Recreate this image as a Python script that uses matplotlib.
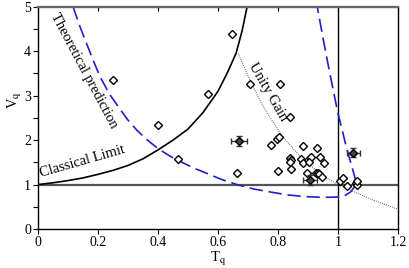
import numpy as np
import matplotlib.pyplot as plt
from matplotlib.ticker import MultipleLocator, FuncFormatter

plt.rcParams['font.family'] = ['Liberation Serif', 'DejaVu Serif']
plt.rcParams['mathtext.fontset'] = 'stix'

# measured points (open diamonds)
tq = [0.249, 0.40, 0.468, 0.567, 0.646, 0.707, 0.807, 0.84, 0.662,
      0.798, 0.803, 0.776, 0.883, 0.931, 0.80, 0.84, 0.842, 0.84, 0.844,
      0.876, 0.883, 0.907, 0.911, 0.903, 0.94, 0.953, 0.898, 0.926, 0.933,
      0.937, 0.948, 1.007, 1.018, 1.031, 1.059, 1.064, 1.062]
vq = [3.35, 2.34, 1.57, 3.03, 4.38, 3.27, 3.26, 2.52, 1.27,
      2.02, 2.07, 1.89, 1.86, 1.82, 1.30, 1.60, 1.55, 1.51, 1.36,
      1.57, 1.48, 1.60, 1.61, 1.51, 1.61, 1.48, 1.25, 1.27, 1.27,
      1.24, 1.18, 1.09, 1.15, 0.96, 1.03, 1.00, 1.07]

# points with error bars
tq_err = [0.67, 0.907, 1.051]
vq_err = [1.98, 1.10, 1.72]
xerr = [0.028, 0.024, 0.022]
yerr = [0.11, 0.11, 0.11]

# curves
classical_t = [0.0, 0.05, 0.1, 0.15, 0.2, 0.25, 0.3, 0.35, 0.4, 0.45, 0.5,
               0.55, 0.6, 0.63, 0.66, 0.68, 0.697]
classical_v = [1.0, 1.04, 1.09, 1.15, 1.23, 1.32, 1.43, 1.58, 1.78, 2.0, 2.25,
               2.62, 3.1, 3.5, 3.95, 4.45, 5.0]

theory_t = [0.117, 0.14, 0.162, 0.185, 0.207, 0.24, 0.273, 0.30, 0.33, 0.365,
            0.40, 0.44, 0.48, 0.52, 0.56, 0.61, 0.663, 0.72, 0.777, 0.83,
            0.887, 0.94, 0.977, 1.005, 1.025, 1.043, 1.055, 1.06, 1.055, 1.047,
            1.038, 1.028, 1.015, 1.0, 0.985, 0.97, 0.95, 0.931]
theory_v = [5.0, 4.55, 4.17, 3.78, 3.42, 3.02, 2.7, 2.45, 2.22, 2.0,
            1.81, 1.64, 1.5, 1.37, 1.26, 1.12, 1.0, 0.9, 0.83, 0.77,
            0.73, 0.715, 0.715, 0.725, 0.76, 0.84, 0.95, 1.05, 1.2, 1.39,
            1.6, 1.84, 2.2, 2.6, 3.1, 3.6, 4.3, 5.0]

unity_t = [0.667, 0.7, 0.734, 0.76, 0.79, 0.81, 0.845, 0.879, 0.91, 0.94,
           0.97, 0.997, 1.05, 1.11, 1.15, 1.197]
unity_v = [3.95, 3.45, 2.97, 2.65, 2.34, 2.13, 1.85, 1.6, 1.42, 1.25,
           1.12, 1.01, 0.85, 0.67, 0.57, 0.45]

fig = plt.figure(figsize=(4.09, 2.68), dpi=100)
ax = fig.add_axes([0.093, 0.1455, 0.880, 0.829])

ax.axhline(1, color='#555555', lw=1.6, zorder=1)
ax.axvline(1, color='black', lw=1.0, zorder=1)

ax.plot(classical_t, classical_v, color='black', lw=1.2)
ax.plot(theory_t, theory_v, color='#2020c8', lw=1.2, dashes=(8, 3.5))
ax.plot(unity_t, unity_v, color='#555555', lw=0.7, ls=(0, (1, 1.2)))

ax.plot(tq, vq, ls='none', marker='D', ms=3.8, mfc='white', mec='black', mew=1.0, zorder=3)
ax.errorbar(tq_err, vq_err, xerr=xerr, yerr=yerr, fmt='D', ms=3.8, mfc='#444444',
            mec='black', mew=1.0, ecolor='#333333', elinewidth=1.0, capsize=2.5, zorder=3)

ax.text(0.07, 4.9, 'Theoretical prediction', rotation=-62, rotation_mode='anchor',
        ha='left', va='top', fontsize=10.5)
ax.text(0.012, 1.1, 'Classical Limit', rotation=16, rotation_mode='anchor',
        ha='left', va='bottom', fontsize=10.5)
ax.text(0.73, 3.8, 'Unity Gain', rotation=-60, rotation_mode='anchor',
        ha='left', va='top', fontsize=10.5)

ax.set_xlim(0, 1.2)
ax.set_ylim(0, 5)
ax.xaxis.set_major_locator(MultipleLocator(0.2))
ax.yaxis.set_major_locator(MultipleLocator(0.5))
ax.xaxis.set_major_formatter(FuncFormatter(lambda v, p: ('%g' % round(v, 1))))
ax.yaxis.set_major_formatter(FuncFormatter(lambda v, p: '%d' % v if abs(v - round(v)) < 1e-6 else ''))
ax.tick_params(axis='both', direction='out', length=3.5, width=0.8, labelsize=10, pad=1.5)
ax.secondary_xaxis('top').tick_params(direction='in', length=3, labeltop=False)
for s in ax.spines.values():
    s.set_linewidth(1.0)
ax.spines['top'].set_color('#666666')
ax.spines['top'].set_linewidth(1.6)

ax.set_xlabel(r'T$_\mathrm{q}$', fontsize=10.5, labelpad=1)
ax.set_ylabel(r'V$_\mathrm{q}$', fontsize=10.5, labelpad=2)
ax.yaxis.set_label_coords(-0.04, 0.58)

fig.savefig('out.png', dpi=100)
